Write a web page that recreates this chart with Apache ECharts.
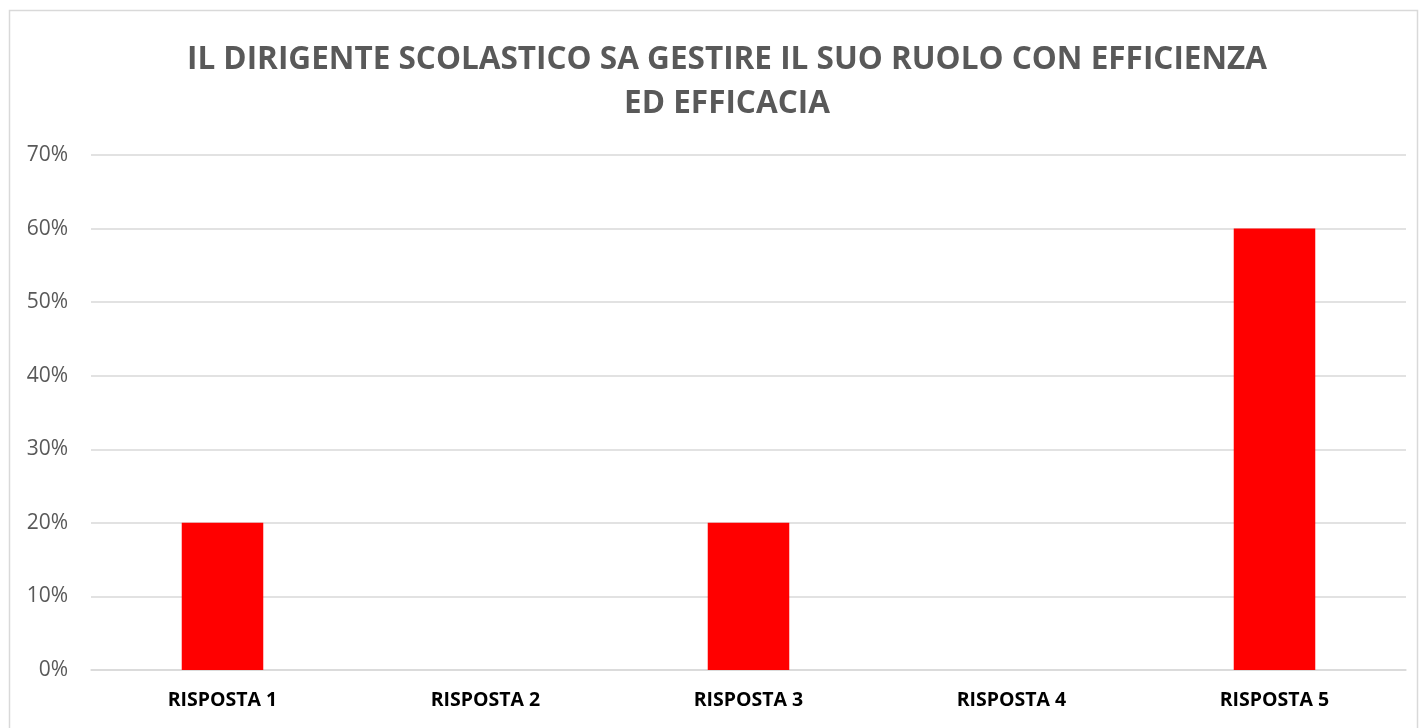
<!DOCTYPE html>
<html lang="it">
<head>
  <meta charset="UTF-8">
  <script src="https://cdn.jsdelivr.net/npm/echarts@6/dist/echarts.min.js"></script>
  <style>
    html, body { margin: 0; padding: 0; background: #fff; }
    #chart { width: 1420px; height: 728px; }
  </style>
</head>
<body>
  <div id="chart"></div>
  <script>
    // dati
    const categories = ['RISPOSTA 1', 'RISPOSTA 2', 'RISPOSTA 3', 'RISPOSTA 4', 'RISPOSTA 5'];
    const percentages = [20, 0, 20, 0, 60];
    const titleText = 'IL DIRIGENTE SCOLASTICO SA GESTIRE IL SUO RUOLO CON EFFICIENZA\nED EFFICACIA';

    const font = '"Open Sans", "Noto Sans", sans-serif';
    const chart = echarts.init(document.getElementById('chart'));

    chart.setOption({
      animation: false,
      title: {
        text: titleText,
        left: 722,
        textAlign: 'center',
        top: 33,
        textStyle: {
          color: '#595959',
          fontSize: 31.5,
          fontWeight: 'bold',
          fontFamily: font,
          lineHeight: 44
        }
      },
      graphic: [{
        type: 'rect',
        shape: { x: 9.5, y: 10.5, width: 1408, height: 740 },
        style: { fill: 'none', stroke: '#d9d9d9', lineWidth: 1.5 },
        silent: true
      }],
      grid: { left: 91, right: 14, top: 155, bottom: 58, containLabel: false },
      xAxis: {
        type: 'category',
        data: categories,
        axisTick: { show: false },
        axisLine: { lineStyle: { color: '#d9d9d9', width: 1.5 } },
        axisLabel: {
          color: '#000',
          fontSize: 19.5,
          fontWeight: 'bold',
          fontFamily: font,
          margin: 20
        }
      },
      yAxis: {
        type: 'value',
        min: 0,
        max: 70,
        interval: 10,
        axisLine: { show: false },
        axisTick: { show: false },
        splitLine: { lineStyle: { color: '#d9d9d9', width: 1.5 } },
        axisLabel: {
          color: '#595959',
          fontSize: 21,
          fontFamily: font,
          margin: 23,
          formatter: v => v + '%'
        }
      },
      series: [{
        type: 'bar',
        data: percentages,
        barWidth: '31%',
        itemStyle: { color: '#ff0000' }
      }]
    });
  </script>
</body>
</html>
